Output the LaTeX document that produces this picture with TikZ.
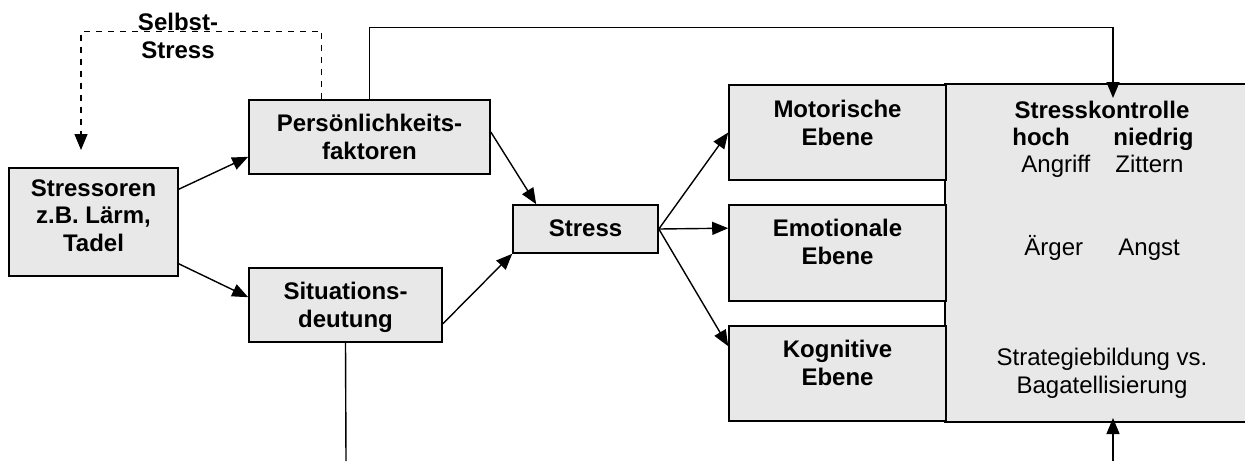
\documentclass[tikz,border=0pt]{standalone}
\usepackage{fontspec}
\setmainfont{Liberation Sans}
\usetikzlibrary{arrows.meta,calc}
\definecolor{boxgray}{RGB}{232,232,232}

\begin{document}
\begin{tikzpicture}[x=0.5pt,y=-0.5pt,
		box/.style={draw, line width=0.8pt, fill=boxgray, inner sep=0pt},
		txt/.style={align=center, font=\fontsize{12}{13.8}\selectfont\bfseries, inner sep=0pt, anchor=base},
		thin/.style={align=center, font=\fontsize{12}{13.8}\selectfont, inner sep=0pt, anchor=base},
		arr/.style={-{Triangle[length=8pt,width=6.5pt]}, line width=0.7pt}]
		\useasboundingbox (0,0) rectangle (1245,461);
		
		% control box (runs past the right edge)
		\node[box, draw=none, minimum width=155pt, minimum height=168pt] (ktr) at (1101,253) {};
		\draw[line width=0.8pt] (ktr.north east) -- (ktr.north west) -- (ktr.south west) -- (ktr.south east);
		
		% boxes
		\node[box, minimum width=84.5pt, minimum height=54pt] (sor) at (93.5,222) {};
		\node[box, minimum width=120.5pt, minimum height=37pt] (pers) at (369.5,137) {};
		\node[box, minimum width=96.5pt, minimum height=37pt] (sit) at (345.5,305) {};
		\node[box, minimum width=72.5pt, minimum height=24pt] (str) at (585.5,229) {};
		\node[box, minimum width=108.5pt, minimum height=47.5pt] (mot) at (837.5,132.5) {};
		\node[box, minimum width=108.5pt, minimum height=48pt] (emo) at (837.5,253) {};
		\node[box, minimum width=108.5pt, minimum height=47.5pt] (kog) at (837.5,373.5) {};
		
		% box texts (base = last line)
		\node[txt] (sorT) at ($(sor.north)+(0,84)$) {Stressoren\\z.B. Lärm,\\Tadel};
		\node[txt] (persT) at ($(pers.north)+(0,60)$) {Persönlichkeits-\\faktoren};
		\node[txt] (sitT) at ($(sit.north)+(0,60)$) {Situations-\\deutung};
		\node[txt] (strT) at ($(str.north)+(0,32)$) {Stress};
		\node[txt] (motT) at ($(mot.north)+(0,61)$) {Motorische\\Ebene};
		\node[txt] (emoT) at ($(emo.north)+(0,60)$) {Emotionale\\Ebene};
		\node[txt] (kogT) at ($(kog.north)+(0,60)$) {Kognitive\\Ebene};
		
		% control texts
		\node[txt] (ktrT) at (1102,118) {Stresskontrolle};
		\node[txt, anchor=base west] (hoch) at (1012,145) {hoch};
		\node[txt, anchor=base west] (nied) at (1113,145) {niedrig};
		\node[thin, anchor=base west] (angr) at (1021,172) {Angriff};
		\node[thin, anchor=base west] (zitt) at (1115,172) {Zittern};
		\node[thin, anchor=base west] (aerg) at (1024,255) {Ärger};
		\node[thin, anchor=base west] (angs) at (1118,255) {Angst};
		\node[thin] (strat) at (1102,393) {Strategiebildung vs.\\Bagatellisierung};
		
		% self stress loop
		\coordinate (selfEnd) at (81,150);
		\draw[arr, dash pattern=on 3pt off 3pt] ([xshift=-24pt]pers.north) -- ++(0,-68) -| (selfEnd);
		\node[txt] (selfT) at (178,58) {Selbst-\\Stress};
		
		% feedback to control
		\coordinate (ktrIn) at (1113,98);
		\draw[arr] (pers.north) -- ++(0,-72) -| (ktrIn);
		
		% lines leaving the page
		\coordinate (sitEnd) at (346,461);
		\coordinate (ktrFoot) at (1113,461);
		\coordinate (ktrOut) at (1113,418);
		\draw[line width=0.7pt] (sit.south) -- (sitEnd);
		\draw[arr] (ktrFoot) -- (ktrOut);
		
		% arrows
		\draw[arr] ($(sor.north east)+(0,22)$) -- ($(pers.south west)+(0,-18)$);
		\draw[arr] ($(sor.south east)+(0,-13)$) -- ($(sit.north west)+(0,30)$);
		\draw[arr] ($(pers.east)+(0,-5)$) -- ($(str.north west)+(24,0)$);
		\draw[arr] ($(sit.south east)+(0,-19)$) -- (str.south west);
		\draw[arr] (str.east) -- (mot.west);
		\draw[arr] (str.east) -- ($(emo.north west)+(0,24)$);
		\draw[arr] (str.east) -- ($(kog.north west)+(0,21)$);
	\end{tikzpicture}
\end{document}
